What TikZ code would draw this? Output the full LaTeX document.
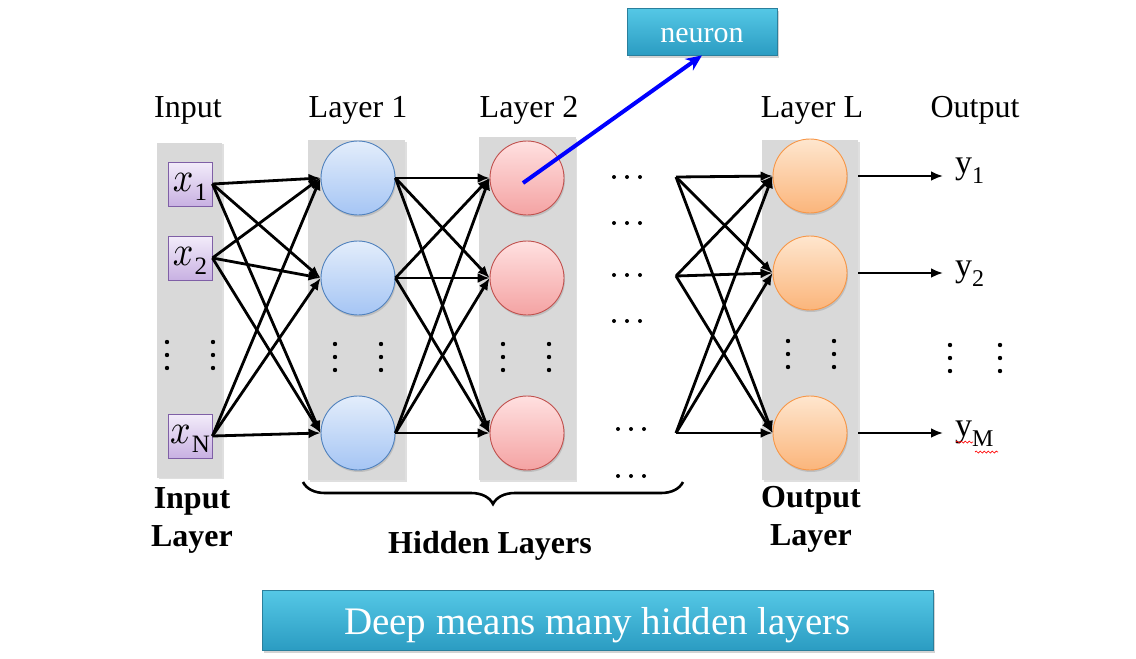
\documentclass[tikz,border=0pt]{standalone}
\usepackage{fontspec}
\setmainfont{Liberation Serif}
\usetikzlibrary{arrows.meta,shadows,decorations.pathreplacing,decorations.pathmorphing}
\definecolor{colgray}{HTML}{D9D9D9}
\definecolor{blueT}{HTML}{E3EDFB}\definecolor{blueB}{HTML}{A5C5F4}\definecolor{blueD}{HTML}{4F81BD}
\definecolor{redT}{HTML}{FFE0E0}\definecolor{redB}{HTML}{F4A3A3}\definecolor{redD}{HTML}{C0504D}
\definecolor{orT}{HTML}{FEE6CE}\definecolor{orB}{HTML}{FBB57B}\definecolor{orD}{HTML}{F79646}
\definecolor{puT}{HTML}{F3ECFA}\definecolor{puB}{HTML}{C8B1E2}\definecolor{puD}{HTML}{7F5FA6}
\definecolor{cyT}{HTML}{55C8E6}\definecolor{cyB}{HTML}{2B9CC2}\definecolor{cyD}{HTML}{2A7F9C}
\newcommand{\xin}[1]{\raisebox{-3pt}[\height][\depth]{\scalebox{3.6}[4.2]{$x$}\kern1pt\raisebox{-9pt}{\fontsize{25}{25}\selectfont #1}}}
\newcommand{\yout}[1]{{\fontsize{34}{34}\selectfont y}\raisebox{-10pt}{\fontsize{24}{24}\selectfont #1}}
\begin{document}
\begin{tikzpicture}[x=1pt,y=-1pt,
  colbox/.style={fill=colgray,draw=none,inner sep=0,drop shadow={opacity=0.25,shadow xshift=1.5pt,shadow yshift=-1.5pt}},
  neu/.style={circle,minimum size=74pt,inner sep=0,line width=0.9pt,drop shadow={opacity=0.3,shadow xshift=1pt,shadow yshift=-2pt}},
  bneu/.style={neu,draw=blueD,top color=blueT,bottom color=blueB},
  rneu/.style={neu,draw=redD,top color=redT,bottom color=redB},
  oneu/.style={neu,draw=orD,top color=orT,bottom color=orB},
  inbox/.style={rectangle,minimum size=44pt,inner sep=0,draw=puD,line width=0.9pt,top color=puT,bottom color=puB},
  cybox/.style={rectangle,inner sep=0,draw=cyD,line width=0.8pt,top color=cyT,bottom color=cyB,text=white,
     drop shadow={opacity=0.35,shadow xshift=2pt,shadow yshift=-2.5pt}},
  arr/.style={line width=2.8pt,-{Latex[length=12pt,width=10pt]}},
  head/.style={font=\fontsize{32}{32}\selectfont,anchor=base,inner sep=0},
  blab/.style={font=\fontsize{32}{38}\selectfont\bfseries,align=center,inner sep=0},
  dot/.style={fill=black}
]
\useasboundingbox (0,0) rectangle (1136,659);
% columns
\node[colbox,minimum width=65pt,minimum height=335pt] (colin) at (189.5,310) {};
\node[colbox,minimum width=97pt,minimum height=340pt] (col1) at (356.5,310) {};
\node[colbox,minimum width=97pt,minimum height=343pt] (col2) at (527,308.5) {};
\node[colbox,minimum width=96pt,minimum height=340pt] (colL) at (810,310) {};
% headers
\node[head] (hin) at (188,117) {Input};
\node[head] (h1) at (358,117) {Layer 1};
\node[head] (h2) at (529,117) {Layer 2};
\node[head] (hL) at (812,117) {Layer L};
\node[head] (hout) at (975,117) {Output};
% inputs
\node[inbox] (x1) at (190,184) {\xin{1}};
\node[inbox] (x2) at (190,258) {\xin{2}};
\node[inbox] (xN) at (190,436) {\xin{N}};
% neurons
\node[bneu] (a1) at (358,178) {};
\node[bneu] (a2) at (358,278) {};
\node[bneu] (a3) at (358,433) {};
\node[rneu] (b1) at (527,178) {};
\node[rneu] (b2) at (527,278) {};
\node[rneu] (b3) at (527,433) {};
\node[oneu] (c1) at (810,176) {};
\node[oneu] (c2) at (810,273) {};
\node[oneu] (c3) at (810,433) {};
% connections
\foreach \s in {x1,x2,xN}{\foreach \t in {a1,a2,a3}{\draw[arr] (\s.east) -- (\t.west);}}
\foreach \s in {a1,a2,a3}{\foreach \t in {b1,b2,b3}{\draw[arr] (\s.east) -- (\t.west);}}
\coordinate (p1) at (676,177);
\coordinate (p2) at (676,276);
\coordinate (p3) at (676,433);
\foreach \s in {p1,p2,p3}{\foreach \t in {c1,c2,c3}{\draw[arr] (\s) -- (\t.west);}}
% outputs
\node[anchor=base west,inner sep=0] (o1) at (955,173) {\yout{1}};
\node[anchor=base west,inner sep=0] (o2) at (955,276) {\yout{2}};
\node[anchor=base west,inner sep=0] (o3) at (955,436) {\yout{M}};
\draw[arr] ([xshift=11pt]c1.east) -- ([xshift=-12pt]c1.east -| o1.west);
\draw[arr] ([xshift=11pt]c2.east) -- ([xshift=-12pt]c2.east -| o2.west);
\draw[arr] ([xshift=11pt]c3.east) -- ([xshift=-12pt]c3.east -| o3.west);
\draw[red,line width=0.7pt,decorate,decoration={snake,amplitude=1pt,segment length=4pt}] (956,442) -- (973,442);
\draw[red,line width=0.7pt,decorate,decoration={snake,amplitude=1pt,segment length=4pt}] (975,452) -- (998,452);
% vertical dots
\foreach \x/\ya in {167/342,213/342,335/344,381/344,503/344,549/344,788/341,834/341,950/345,1000/345}{
  \foreach \k in {0,1,2}{\fill[dot] (\x,\ya+13*\k) circle (2.2pt);}}
% horizontal dots
\foreach \y in {177,223,275,321}{\foreach \x in {614,627,640}{\fill[dot] (\x,\y) circle (2pt);}}
\foreach \y in {429,476}{\foreach \x in {618,631,644}{\fill[dot] (\x,\y) circle (2pt);}}
% brace
\draw[line width=2.6pt,decorate,decoration={brace,amplitude=22pt}] (683,482) -- (303,482);
% bottom labels
\node[blab,anchor=north] (lin) at (192,487) {Input\\Layer};
\node[blab,anchor=north] (lout) at (811,486) {Output\\Layer};
\node[font=\fontsize{32}{32}\selectfont\bfseries,anchor=base,inner sep=0] (lhid) at (490,553) {Hidden Layers};
% neuron callout
\node[cybox,minimum width=150pt,minimum height=47pt,font=\fontsize{30}{30}\selectfont] (neuron) at (702,31.5) {\raisebox{-4pt}[\height][\depth]{neuron}};
\draw[blue,line width=4pt,-{Stealth[length=16pt,width=14pt]}] (523,183) -- (neuron.south);
% bottom banner
\node[cybox,minimum width=671pt,minimum height=60pt,font=\fontsize{39}{39}\selectfont] (banner) at (597.5,620) {\raisebox{-5pt}[\height][\depth]{Deep means many hidden layers}};
\end{tikzpicture}
\end{document}
